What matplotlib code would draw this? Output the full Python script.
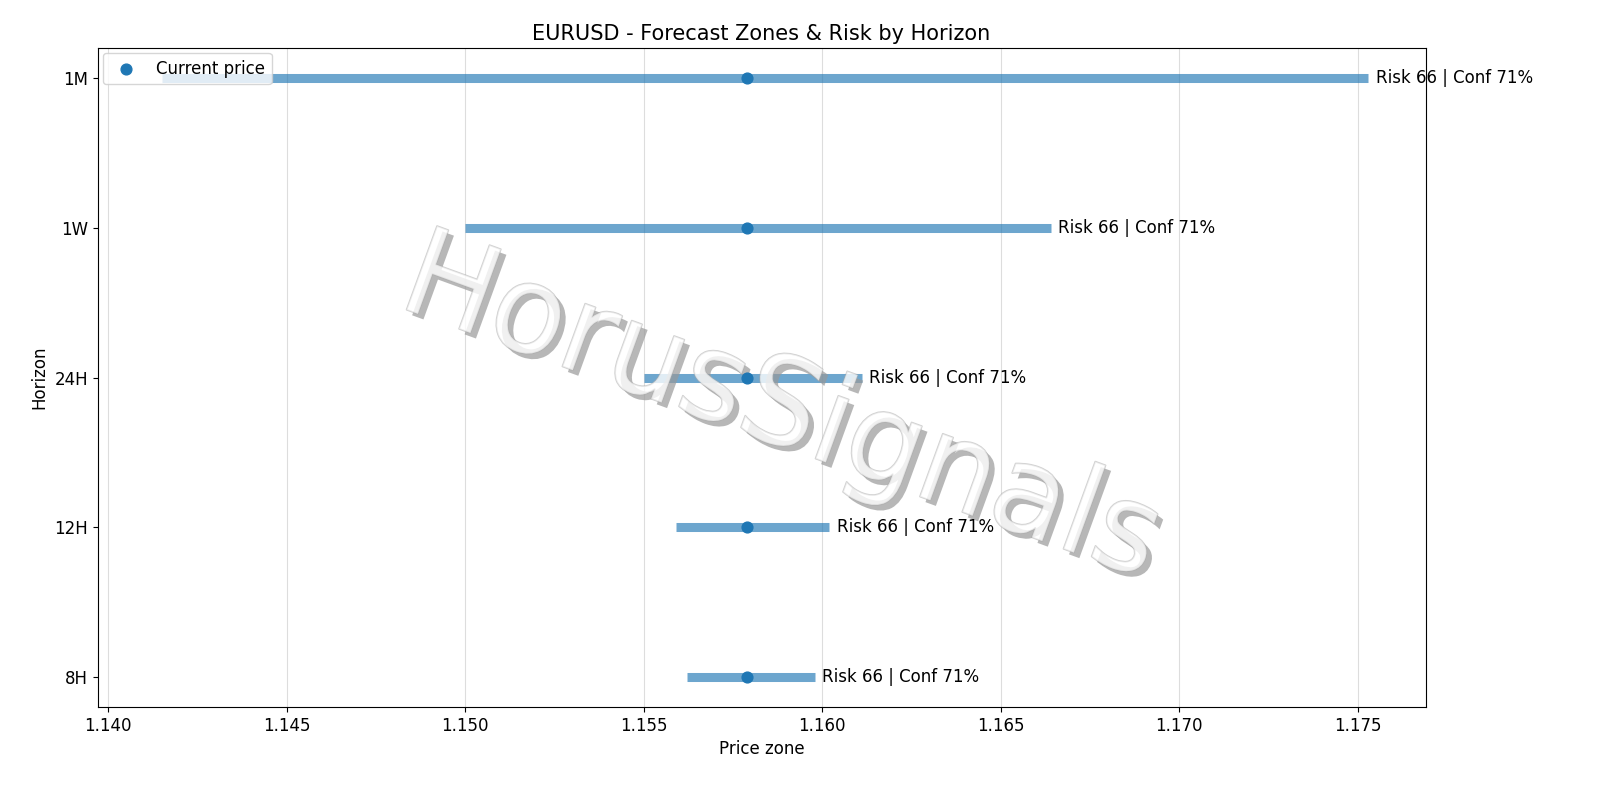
import matplotlib
matplotlib.use("Agg")
import matplotlib.pyplot as plt
import matplotlib.patheffects as pe

horizons = ["8H", "12H", "24H", "1W", "1M"]
low = [1.1562, 1.1559, 1.1550, 1.1500, 1.1415]
high = [1.1598, 1.1602, 1.1611, 1.1664, 1.1753]
current = 1.1579
risk = [66, 66, 66, 66, 66]
conf = [71, 71, 71, 71, 71]

fig = plt.figure(figsize=(16, 8), dpi=100)
ax = fig.add_axes([0.061, 0.116, 0.83, 0.824])

y = list(range(len(horizons)))
for i in y:
    ax.hlines(i, low[i], high[i], color="#1f77b4", alpha=0.65, linewidth=6.5, zorder=2)
    ax.text(high[i] + 0.0002, i, f"Risk {risk[i]} | Conf {conf[i]}%", va="center",
            fontsize=12, zorder=6)
ax.scatter([current] * len(y), y, color="#1f77b4", s=60, zorder=6, label="Current price")

ax.set_yticks(y)
ax.set_yticklabels(horizons, fontsize=12)
ax.tick_params(axis="x", labelsize=12)
ax.set_xlim(1.1397, 1.1769)
ax.set_ylim(-0.2, 4.2)
ax.set_xticks([1.140, 1.145, 1.150, 1.155, 1.160, 1.165, 1.170, 1.175])
ax.xaxis.set_major_formatter(matplotlib.ticker.FormatStrFormatter("%.3f"))
ax.grid(axis="x", color="#dddddd", linewidth=0.8)
ax.set_axisbelow(True)
ax.set_xlabel("Price zone", fontsize=12)
ax.set_ylabel("Horizon", fontsize=12)
ax.set_title("EURUSD - Forecast Zones & Risk by Horizon", fontsize=15)
ax.legend(loc="upper left", fontsize=12, borderaxespad=0.3)

ax.text(0.515, 0.45, "HorusSignals", transform=ax.transAxes, fontsize=88, rotation=-20,
        ha="center", va="center", color="white", alpha=0.55, zorder=5,
        path_effects=[pe.SimplePatchShadow(offset=(4, -4), shadow_rgbFace="#999999", alpha=0.7),
                      pe.withStroke(linewidth=1.2, foreground="#aaaaaa")])

fig.savefig("out.png", dpi=100)
